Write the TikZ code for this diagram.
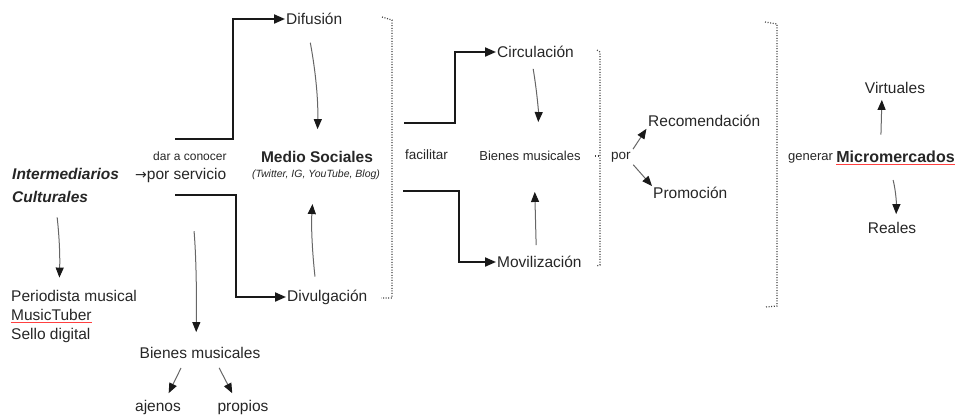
\documentclass[tikz,border=0pt]{standalone}
\usepackage{fontspec}
\setmainfont{Liberation Sans}
\newfontfamily\arrowfont{DejaVu Sans}
\usetikzlibrary{positioning,
                arrows.meta}                % arrow tips

\newcommand{\mainsize}{\fontsize{15.5}{19}\selectfont}
\newcommand{\smallsize}{\fontsize{13}{15}\selectfont}
\newcommand{\redline}[1]{{\setbox0\hbox{#1}\rlap{\textcolor{red!75}{\rule[-3pt]{\wd0}{0.9pt}}}\box0}}

\begin{document}
\begin{tikzpicture}[x=1pt,y=-1pt,
    txt/.style={inner sep=1pt, anchor=west, text=black!85, font=\mainsize},
    smalltxt/.style={txt, font=\smallsize},
    elbow/.style={line width=2pt, black!90, -{Triangle[length=11pt,width=9pt]}},
    thinarrow/.style={draw=black!60, line width=1pt,
                      -{Triangle[length=10pt,width=8pt,color=black!90]}},
    bracket/.style={line width=1.2pt, black!75, dash pattern=on 1pt off 1.6pt}]
      \useasboundingbox (0,0) rectangle (961,418);

      % left part
      \node[txt, align=left, font=\fontsize{15.5}{23}\selectfont\bfseries\itshape] (inter) at (11,185)
            {Intermediarios\\Culturales};
      \node[txt, align=left] (roles) at (10,316)
            {Periodista musical\\\redline{MusicTuber}\\Sello digital};
      \node[smalltxt, font=\fontsize{12}{14}\selectfont] (dar) at (152,156) {dar a conocer};
      \node[txt] (serv) at (134,175) {{\arrowfont\fontsize{14}{16}\selectfont →}por servicio};
      \node[txt, anchor=center] (bien1) at (200,353) {Bienes musicales};
      \node[txt, anchor=center] (ajenos) at (158,407) {ajenos};
      \node[txt, anchor=center] (propios) at (243,407) {propios};

      \draw[thinarrow, shorten <=14pt, shorten >=11pt, bend left=4]
            ([xshift=-10]inter.south) to ([xshift=-15]roles.north);
      \draw[thinarrow, shorten <=48pt, shorten >=14pt, bend left=3]
            ([xshift=9]serv.south) to ([xshift=-4]bien1.north);
      \draw[thinarrow, shorten <=9pt, shorten >=6pt]
            ([xshift=-15]bien1.south) -- ([xshift=8]ajenos.north);
      \draw[thinarrow, shorten <=9pt, shorten >=6pt]
            ([xshift=15]bien1.south) -- ([xshift=-8]propios.north);

      % medios sociales
      \node[txt] (dif) at (285,19) {Difusión};
      \node[txt] (divul) at (286,297) {Divulgación};
      \node[txt, anchor=center, font=\mainsize\bfseries] (medio) at (317,157) {Medio Sociales};
      \node[txt, anchor=center, font=\fontsize{10.5}{12}\selectfont\itshape] (redes) at (316,175)
            {(Twitter, IG, YouTube, Blog)};

      \coordinate (up1) at (175,139);
      \coordinate (dn1) at (175,195);
      \draw[elbow] (up1) -- ++(58,0) |- (dif);
      \draw[elbow] (dn1) -- ++(61,0) |- (divul);

      \draw[thinarrow, shorten <=17pt, shorten >=21pt, bend left=6]
            ([xshift=-7]dif.south) to (medio.north);
      \draw[thinarrow, shorten <=12pt, shorten >=23pt, bend left=5]
            ([xshift=-11]divul.north) to ([xshift=-2]redes.south);

      \draw[bracket] (382,17) -- (392,20) -- (392,298) -- (381,298);

      % bienes musicales
      \node[smalltxt, font=\fontsize{13.5}{15}\selectfont] (fac) at (404,155) {facilitar};
      \node[txt] (circ) at (496,52) {Circulación};
      \node[txt] (movil) at (496,262) {Movilización};
      \node[smalltxt, anchor=center] (bien2) at (530,156) {Bienes musicales};

      \coordinate (up2) at (404,123);
      \coordinate (dn2) at (403,191);
      \draw[elbow] (up2) -- ++(51,0) |- (circ);
      \draw[elbow] (dn2) -- ++(56,0) |- (movil);

      \draw[thinarrow, shorten <=10pt, shorten >=28pt, bend left=6]
            ([xshift=-4]circ.south) to ([xshift=7]bien2.north);
      \draw[thinarrow, shorten <=10pt, shorten >=30pt]
            ([xshift=-3]movil.north) -- ([xshift=4]bien2.south);

      \draw[bracket] (597,50) -- (600,52) -- (600,265) -- (596,266);
      \draw[bracket] (595,156) -- (600,156);

      % por
      \node[smalltxt, font=\fontsize{13.5}{15}\selectfont] (por) at (610,157) {por};
      \node[txt] (rec) at (647,121) {Recomendación};
      \node[txt] (prom) at (652,193) {Promoción};
      \draw[thinarrow, shorten <=2pt, shorten >=1pt] (por.north east) -- (rec.south west);
      \draw[thinarrow, shorten <=2pt, shorten >=0pt] (por.south east) -- (prom.north west);

      \draw[bracket] (765,22) -- (777,24) -- (777,306) -- (765,307);

      % micromercados
      \node[smalltxt] (gen) at (787,158) {generar};
      \node[txt, font=\fontsize{16}{19}\selectfont\bfseries, right=1pt of gen] (micro)
            {\redline{Micromercados}};
      \node[txt, anchor=center] (virt) at (895,88) {Virtuales};
      \node[txt, anchor=center] (real) at (892,228) {Reales};
      \draw[thinarrow, shorten <=15pt, shorten >=5pt]
            ([xshift=-15]micro.north) -- ([xshift=-13]virt.south);
      \draw[thinarrow, shorten <=14pt, shorten >=7pt, bend left=8]
            ([xshift=-6]micro.south) to ([xshift=4]real.north);

    \end{tikzpicture}
\end{document}
